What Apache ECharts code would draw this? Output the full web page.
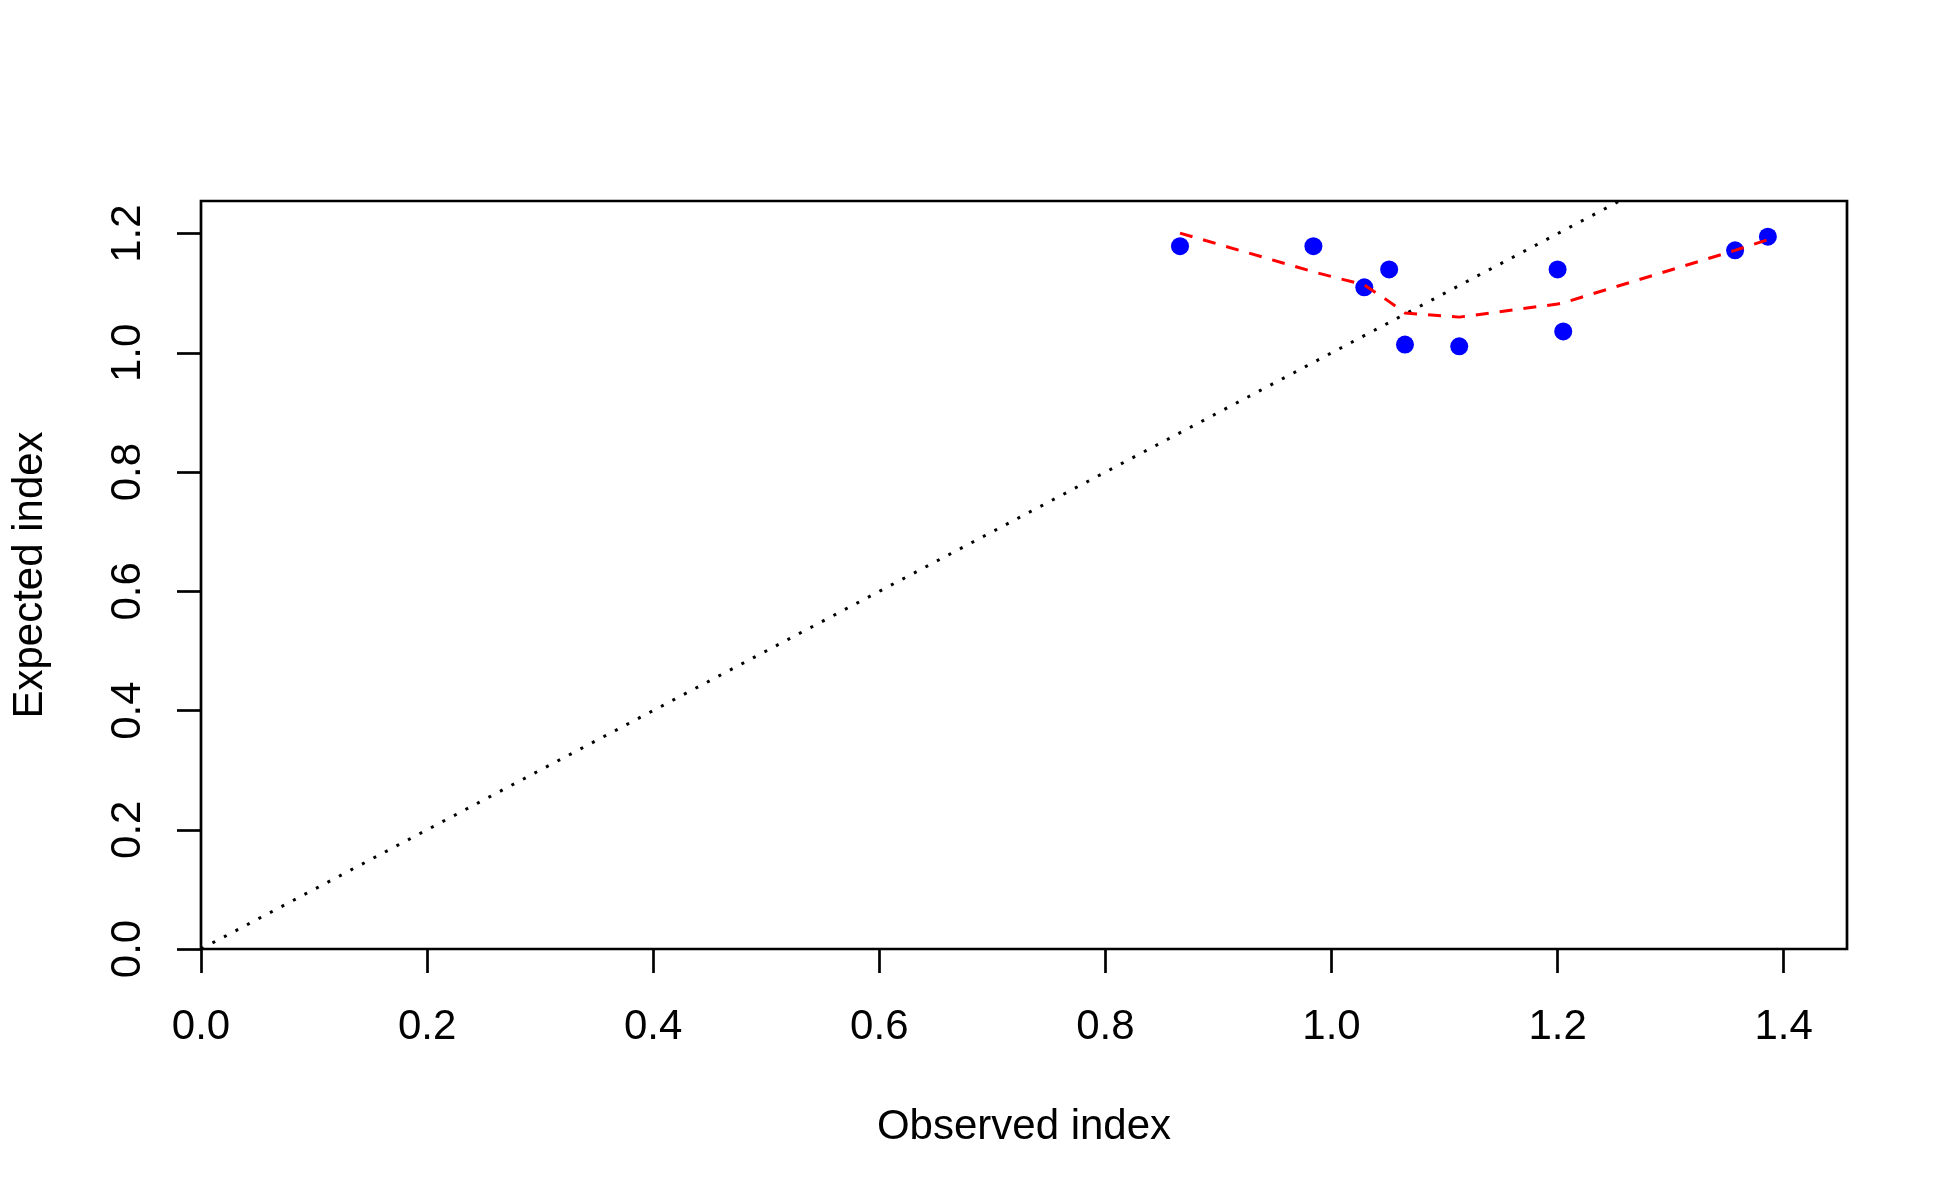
<!DOCTYPE html>
<html style="height: 100%">
   <head>
       <meta charset="utf-8">
   </head>
   <body style="height: 100%; margin: 0; background: #fff">
       <div id="container" style="width: 1950px; height: 1200px"></div>
       <script type="text/javascript" src="https://cdn.jsdelivr.net/npm/echarts@6/dist/echarts.min.js"></script>
       <script type="text/javascript">
// observed vs expected index, one point per unit
var obsX = [0.866, 0.984, 1.051, 1.029, 1.065, 1.113, 1.200, 1.205, 1.357, 1.386];
var expY = [1.179, 1.179, 1.140, 1.110, 1.014, 1.011, 1.140, 1.036, 1.172, 1.195];
// smoother (red dashed), read at the sorted x values
var smoothX = [0.866, 0.984, 1.029, 1.051, 1.065, 1.113, 1.200, 1.205, 1.357, 1.386];
var smoothY = [1.201, 1.136, 1.114, 1.086, 1.067, 1.060, 1.082, 1.084, 1.172, 1.190];
// 1:1 reference line
var refLine = [0, 1.3];
var xTicks = [0, 0.2, 0.4, 0.6, 0.8, 1.0, 1.2, 1.4];
var yTicks = [0, 0.2, 0.4, 0.6, 0.8, 1.0, 1.2];

var points = obsX.map(function (x, i) { return [x, expY[i]]; });
var smooth = smoothX.map(function (x, i) { return [x, smoothY[i]]; });
var diag = refLine.map(function (v) { return [v, v]; });

var dom = document.getElementById("container");
var myChart = echarts.init(dom);
var font = 'Liberation Sans, Arial, sans-serif';

var option = {
    animation: false,
    backgroundColor: '#fff',
    textStyle: {fontFamily: font},
    grid: {
        left: 201,
        top: 201,
        right: 103,
        bottom: 251,
        show: true,
        borderColor: '#000',
        borderWidth: 2.7,
        backgroundColor: 'transparent'
    },
    xAxis: {
        type: 'value',
        min: 0,
        max: 1.456,
        name: 'Observed index',
        nameLocation: 'middle',
        nameGap: 157,
        nameTextStyle: {fontSize: 42, color: '#000', fontFamily: font},
        splitLine: {show: false},
        axisLine: {show: false},
        axisTick: {show: true, customValues: xTicks, length: 24, lineStyle: {color: '#000', width: 2.7}},
        axisLabel: {
            customValues: xTicks,
            margin: 57,
            fontSize: 42,
            color: '#000',
            fontFamily: font,
            formatter: function (v) { return v.toFixed(1); }
        }
    },
    yAxis: {
        type: 'value',
        min: 0,
        max: 1.2548,
        name: 'Expected index',
        nameLocation: 'middle',
        nameGap: 150,
        nameRotate: 90,
        nameTextStyle: {fontSize: 42, color: '#000', fontFamily: font},
        splitLine: {show: false},
        axisLine: {show: false},
        axisTick: {show: true, customValues: yTicks, length: 24, lineStyle: {color: '#000', width: 2.7}},
        axisLabel: {
            customValues: yTicks,
            rotate: 90,
            margin: 52,
            fontSize: 42,
            color: '#000',
            fontFamily: font,
            formatter: function (v) { return v.toFixed(1); }
        }
    },
    series: [
        {
            type: 'scatter',
            data: points,
            symbol: 'circle',
            symbolSize: 18,
            itemStyle: {color: '#0000ff', opacity: 1},
            z: 2
        },
        {
            type: 'line',
            data: diag,
            showSymbol: false,
            clip: true,
            lineStyle: {color: '#000', width: 3, type: [3, 10]},
            z: 3
        },
        {
            type: 'line',
            data: smooth,
            showSymbol: false,
            lineStyle: {color: '#ff0000', width: 3, type: [13, 11]},
            z: 4
        }
    ]
};

myChart.setOption(option);
       </script>
   </body>
</html>
